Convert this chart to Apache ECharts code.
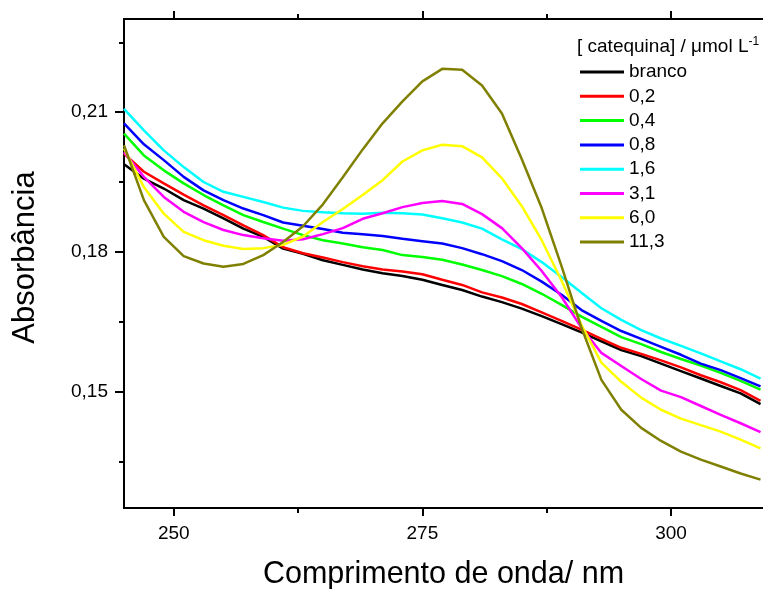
<!DOCTYPE html>
<html>
<head>
<meta charset="utf-8">
<script src="https://cdn.jsdelivr.net/npm/echarts@6/dist/echarts.min.js"></script>
<style>
  html, body { margin: 0; padding: 0; background: #fff; }
  #chart { width: 763px; height: 589px; }
</style>
</head>
<body>
<div id="chart"></div>
<script>
// comprimento de onda (nm), passo de 2 nm
var wavelength = [245, 247, 249, 251, 253, 255, 257, 259, 261, 263, 265, 267, 269, 271, 273, 275, 277,
  279, 281, 283, 285, 287, 289, 291, 293, 295, 297, 299, 301, 303, 305, 307, 309];

var branco = [0.1988, 0.1957, 0.1936, 0.1911, 0.1893, 0.1872, 0.1850, 0.1832, 0.1807, 0.1796, 0.1782,
  0.1772, 0.1762, 0.1754, 0.1748, 0.1740, 0.1729, 0.1718, 0.1704, 0.1692, 0.1678, 0.1662, 0.1645,
  0.1627, 0.1608, 0.1589, 0.1576, 0.1560, 0.1544, 0.1528, 0.1512, 0.1496, 0.1473];
var c02 = [0.2011, 0.1972, 0.1947, 0.1923, 0.1900, 0.1879, 0.1857, 0.1836, 0.1810, 0.1797, 0.1788,
  0.1778, 0.1769, 0.1762, 0.1758, 0.1752, 0.1740, 0.1729, 0.1713, 0.1702, 0.1688, 0.1670, 0.1652,
  0.1633, 0.1613, 0.1594, 0.1581, 0.1567, 0.1552, 0.1535, 0.1520, 0.1503, 0.1480];
var c04 = [0.2054, 0.2007, 0.1975, 0.1947, 0.1922, 0.1900, 0.1879, 0.1864, 0.1850, 0.1836, 0.1825,
  0.1818, 0.1810, 0.1804, 0.1793, 0.1789, 0.1783, 0.1773, 0.1761, 0.1748, 0.1731, 0.1710, 0.1686,
  0.1661, 0.1639, 0.1617, 0.1602, 0.1585, 0.1570, 0.1556, 0.1540, 0.1523, 0.1504];
var c08 = [0.2076, 0.2031, 0.1997, 0.1961, 0.1932, 0.1911, 0.1893, 0.1879, 0.1863, 0.1856, 0.1849,
  0.1841, 0.1838, 0.1834, 0.1828, 0.1823, 0.1818, 0.1808, 0.1795, 0.1780, 0.1761, 0.1736, 0.1708,
  0.1675, 0.1652, 0.1630, 0.1613, 0.1596, 0.1579, 0.1560, 0.1546, 0.1529, 0.1511];
var c16 = [0.2107, 0.2061, 0.2018, 0.1982, 0.1950, 0.1929, 0.1918, 0.1907, 0.1895, 0.1888, 0.1885,
  0.1883, 0.1882, 0.1884, 0.1883, 0.1880, 0.1872, 0.1863, 0.1850, 0.1827, 0.1806, 0.1778, 0.1746,
  0.1712, 0.1679, 0.1654, 0.1632, 0.1614, 0.1598, 0.1582, 0.1565, 0.1548, 0.1528];
var c31 = [0.2014, 0.1961, 0.1918, 0.1886, 0.1864, 0.1847, 0.1836, 0.1829, 0.1824, 0.1827, 0.1838,
  0.1851, 0.1871, 0.1883, 0.1896, 0.1905, 0.1909, 0.1903, 0.1881, 0.1851, 0.1808, 0.1759, 0.1703,
  0.1637, 0.1583, 0.1555, 0.1527, 0.1502, 0.1488, 0.1469, 0.1450, 0.1432, 0.1413];
var c60 = [0.2022, 0.1939, 0.1882, 0.1843, 0.1825, 0.1813, 0.1806, 0.1808, 0.1815, 0.1833, 0.1864,
  0.1892, 0.1922, 0.1954, 0.1994, 0.2018, 0.2030, 0.2027, 0.2003, 0.1958, 0.1898, 0.1825, 0.1738,
  0.1643, 0.1562, 0.1521, 0.1487, 0.1461, 0.1442, 0.1428, 0.1414, 0.1397, 0.1378];
var c113 = [0.2029, 0.1911, 0.1832, 0.1791, 0.1775, 0.1768, 0.1774, 0.1793, 0.1821, 0.1855, 0.1902,
  0.1960, 0.2020, 0.2076, 0.2123, 0.2166, 0.2193, 0.2191, 0.2157, 0.2097, 0.1999, 0.1894, 0.1769,
  0.1637, 0.1525, 0.1461, 0.1422, 0.1394, 0.1371, 0.1354, 0.1339, 0.1324, 0.1311];

var names = ['branco', '0,2', '0,4', '0,8', '1,6', '3,1', '6,0', '11,3'];
var values = [branco, c02, c04, c08, c16, c31, c60, c113];
var colors = ['#000000', '#ff0000', '#00ff00', '#0000ff', '#00ffff', '#ff00ff', '#ffff00', '#808000'];

var xMajor = [250, 275, 300];
var xMinor = [262.5, 287.5];
var yMajor = [0.15, 0.18, 0.21];
var yMinor = [0.135, 0.165, 0.195, 0.225];

var font = 'Liberation Sans, Arial, sans-serif';
var chart = echarts.init(document.getElementById('chart'));

function xAx(pos, ticks, len, labels, extra) {
  var ax = {
    type: 'value', position: pos, min: 245, max: 309.25,
    axisLine: { show: true, onZero: false, lineStyle: { color: '#000', width: 2 } },
    axisTick: { show: true, length: len, customValues: ticks, lineStyle: { color: '#000', width: 2 } },
    axisLabel: labels ? { show: true, customValues: ticks, fontSize: 19, margin: 16, color: '#000', fontFamily: font }
                      : { show: false },
    splitLine: { show: false }
  };
  return Object.assign(ax, extra || {});
}

function yAx(ticks, len, labels, extra) {
  var ax = {
    type: 'value', position: 'left', min: 0.125, max: 0.23,
    axisLine: { show: true, onZero: false, lineStyle: { color: '#000', width: 2 } },
    axisTick: { show: true, length: len, customValues: ticks, lineStyle: { color: '#000', width: 2 } },
    axisLabel: labels ? {
      show: true, customValues: ticks, fontSize: 19, margin: 16, color: '#000', fontFamily: font,
      formatter: function (v) { return v.toFixed(2).replace('.', ','); }
    } : { show: false },
    splitLine: { show: false }
  };
  return Object.assign(ax, extra || {});
}

var series = names.map(function (n, k) {
  return {
    name: n,
    type: 'line',
    xAxisIndex: 0,
    yAxisIndex: 0,
    showSymbol: false,
    symbol: 'none',
    color: colors[k],
    lineStyle: { color: colors[k], width: 2.5 },
    emphasis: { disabled: true },
    data: wavelength.map(function (x, i) { return [x, values[k][i]]; })
  };
});

chart.setOption({
  animation: false,
  backgroundColor: '#fff',
  grid: { left: 124, top: 19, right: 0, bottom: 81, outerBoundsMode: 'none' },
  title: {
    text: '[ catequina] / μmol L{sup|-1}',
    left: 577, top: 36, padding: 0,
    textStyle: {
      fontSize: 19, fontWeight: 'normal', color: '#000', fontFamily: font,
      rich: { sup: { fontSize: 12, color: '#000', fontFamily: font, padding: [0, 0, 10, 0] } }
    }
  },
  legend: {
    orient: 'vertical', left: 580, top: 62, padding: 0,
    itemWidth: 44, itemHeight: 3, itemGap: 4.3, icon: 'rect',
    selectedMode: false,
    textStyle: { fontSize: 19, color: '#000', fontFamily: font, lineHeight: 20 },
    data: names
  },
  xAxis: [
    xAx('bottom', xMajor, 8, true, {
      name: 'Comprimento de onda/ nm', nameLocation: 'middle', nameGap: 51, nameMoveOverlap: false,
      nameTextStyle: { fontSize: 30.5, color: '#000', fontFamily: font }
    }),
    xAx('bottom', xMinor, 5, false),
    xAx('top', xMajor, 8, false),
    xAx('top', xMinor, 5, false)
  ],
  yAxis: [
    yAx(yMajor, 9, true, {
      name: 'Absorbância', nameLocation: 'middle', nameGap: 83, nameMoveOverlap: false,
      nameTextStyle: { fontSize: 31, color: '#000', fontFamily: font, padding: [0, 0, 0, 12] }
    }),
    yAx(yMinor, 5, false)
  ],
  series: series
});
</script>
</body>
</html>
